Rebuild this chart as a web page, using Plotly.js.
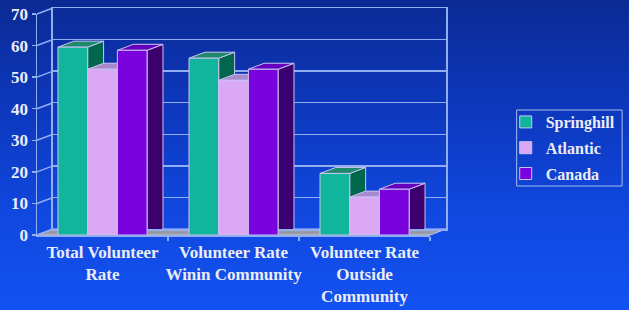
<!DOCTYPE html>
<html>
<head>
<meta charset="utf-8">
<script src="https://cdn.plot.ly/plotly-3.0.1.min.js"></script>
<style>
html,body{margin:0;padding:0;}
body{width:629px;height:310px;overflow:hidden;
background:linear-gradient(to bottom,#0b2a94 0%,#0d38bd 35%,#1048e0 70%,#1352f2 100%);}
#chart{width:629px;height:310px;}
</style>
</head>
<body>
<div id="chart"></div>
<script>
// ---- data ----
const categories = ['Total Volunteer<br>Rate', 'Volunteer Rate<br>Winin Community', 'Volunteer Rate<br>Outside<br>Community'];
const seriesNames = ['Springhill', 'Atlantic', 'Canada'];
const springhill = [59.5, 56, 19.5];
const atlantic = [52.5, 49, 12];
const canada = [58.5, 52.5, 14.5];
const yTicks = [0, 10, 20, 30, 40, 50, 60, 70];

// ---- styling / geometry ----
const frontColors = ['#10b59c', '#dba8f6', '#7a02dc'];
const topColors = ['#1f8a6a', '#a889cc', '#6400bd'];
const sideColors = ['#00664c', '#8a62b0', '#3c006e'];
const edge = '#c8c4f4';
const gridC = '#90aef0';
const txt = '#ececf6';
const fontFam = '"Liberation Serif", "Times New Roman", serif';

const W = 629, H = 310;
const L = 37, R = 448, T = 8, B = 235;   // plot area in px
const DX = 16, DY = 6;                    // 3D depth offset in px
const pw = R - L, ph = B - T;
const xr = [-0.5, 2.5], yr = [0, 70];
const bargap = 0.32;
const nS = 3, bw = (1 - bargap) / nS;
const series = [springhill, atlantic, canada];
const xs = categories.map((c, i) => i);

function fX(x) { return L + (x - xr[0]) / (xr[1] - xr[0]) * (pw - DX); }
function fY(y) { return B - (y - yr[0]) / (yr[1] - yr[0]) * (ph - DY); }
function bX(px) { return xr[0] + (px - (L + DX)) / (pw - DX) * (xr[1] - xr[0]); }
function bY(py) { return yr[0] + ((B - DY) - py) / (ph - DY) * (yr[1] - yr[0]); }
function toBack(x, y, f) { return [bX(fX(x) + DX * f), bY(fY(y) - DY * f)]; }
function px2paperX(px) { return (px - L) / pw; }
function px2paperY(py) { return (B - py) / ph; }

const traces = [];
series.forEach((vals, s) => {
  vals.forEach((v, c) => {
    const xl = xs[c] - (1 - bargap) / 2 + s * bw;
    const xrr = xl + bw;
    const side = [toBack(xrr, 0, 0), toBack(xrr, 0, 1), toBack(xrr, v, 1), toBack(xrr, v, 0), toBack(xrr, 0, 0)];
    const top = [toBack(xl, v, 0), toBack(xrr, v, 0), toBack(xrr, v, 1), toBack(xl, v, 1), toBack(xl, v, 0)];
    traces.push({type: 'scatter', mode: 'lines', xaxis: 'x', yaxis: 'y',
      x: side.map(p => p[0]), y: side.map(p => p[1]), fill: 'toself',
      fillcolor: sideColors[s], line: {color: edge, width: 1}, showlegend: false, hoverinfo: 'skip'});
    traces.push({type: 'scatter', mode: 'lines', xaxis: 'x', yaxis: 'y',
      x: top.map(p => p[0]), y: top.map(p => p[1]), fill: 'toself',
      fillcolor: topColors[s], line: {color: edge, width: 1}, showlegend: false, hoverinfo: 'skip'});
  });
});
series.forEach((vals, s) => {
  traces.push({type: 'bar', xaxis: 'x2', yaxis: 'y2', x: xs, y: vals, name: seriesNames[s],
    legendgroup: seriesNames[s],
    marker: {color: frontColors[s], line: {color: edge, width: 1}}});
});

const shapes = [];
const floorPts = [[L, B], [R - DX, B], [R, B - DY], [L + DX, B - DY]];
shapes.push({type: 'path', xref: 'paper', yref: 'paper', layer: 'below',
  path: 'M' + floorPts.map(p => px2paperX(p[0]) + ',' + px2paperY(p[1])).join('L') + 'Z',
  fillcolor: '#9a9aa2', line: {color: edge, width: 1}});
yTicks.forEach(v => {
  shapes.push({type: 'line', xref: 'paper', yref: 'paper', layer: 'below',
    x0: px2paperX(L), y0: px2paperY(fY(v)), x1: px2paperX(L + DX), y1: px2paperY(fY(v) - DY),
    line: {color: gridC, width: 1.5}});
});
// legend frame
shapes.push({type: 'rect', xref: 'paper', yref: 'paper', layer: 'above',
  x0: px2paperX(519), x1: px2paperX(625), y0: px2paperY(110), y1: px2paperY(186),
  line: {color: '#a8bcef', width: 1}, fillcolor: 'rgba(0,0,0,0)'});

const axFont = {family: fontFam, size: 17, color: txt, weight: 'bold'};
const layout = {
  width: W, height: H,
  margin: {l: L, r: W - R, t: T, b: H - B, pad: 0},
  paper_bgcolor: 'rgba(0,0,0,0)', plot_bgcolor: 'rgba(0,0,0,0)',
  barmode: 'group', bargap: bargap, bargroupgap: 0,
  showlegend: true,
  font: {family: fontFam, color: txt},
  xaxis: {domain: [DX / pw, 1], range: xr, showgrid: false, zeroline: false, showticklabels: false,
    ticks: '', showline: true, mirror: true, linecolor: gridC, linewidth: 1.5, fixedrange: true},
  yaxis: {domain: [DY / ph, 1], range: yr, showgrid: true, gridcolor: gridC, gridwidth: 1.5,
    tickvals: yTicks, zeroline: false, showticklabels: false, ticks: '',
    showline: true, mirror: true, linecolor: gridC, linewidth: 1.5, fixedrange: true},
  xaxis2: {domain: [0, (pw - DX) / pw], range: xr, anchor: 'y2', tickvals: xs, ticktext: categories,
    ticks: '', showgrid: false, zeroline: false, showline: true, linecolor: gridC, linewidth: 1.5,
    layer: 'below traces', tickfont: axFont, tickangle: 0, ticklabelstandoff: 1,
    minor: {tickvals: [0.5, 1.5, 2.5], ticks: 'outside', ticklen: 4, tickcolor: gridC, tickwidth: 1.5, showgrid: false},
    fixedrange: true},
  yaxis2: {domain: [0, (ph - DY) / ph], range: yr, anchor: 'x2', tickvals: yTicks,
    ticks: 'outside', ticklen: 4, tickcolor: gridC, tickwidth: 1.5, showgrid: false, zeroline: false,
    showline: true, linecolor: gridC, linewidth: 1.5, tickfont: axFont, fixedrange: true},
  legend: {x: px2paperX(508), xanchor: 'left', y: px2paperY(105), yanchor: 'top',
    borderwidth: 0, bgcolor: 'rgba(0,0,0,0)',
    font: {family: fontFam, size: 16, color: txt, weight: 'bold'},
    traceorder: 'grouped', tracegroupgap: 2, itemwidth: 30},
  shapes: shapes
};
Plotly.newPlot('chart', traces, layout, {staticPlot: true, displayModeBar: false});
</script>
</body>
</html>
